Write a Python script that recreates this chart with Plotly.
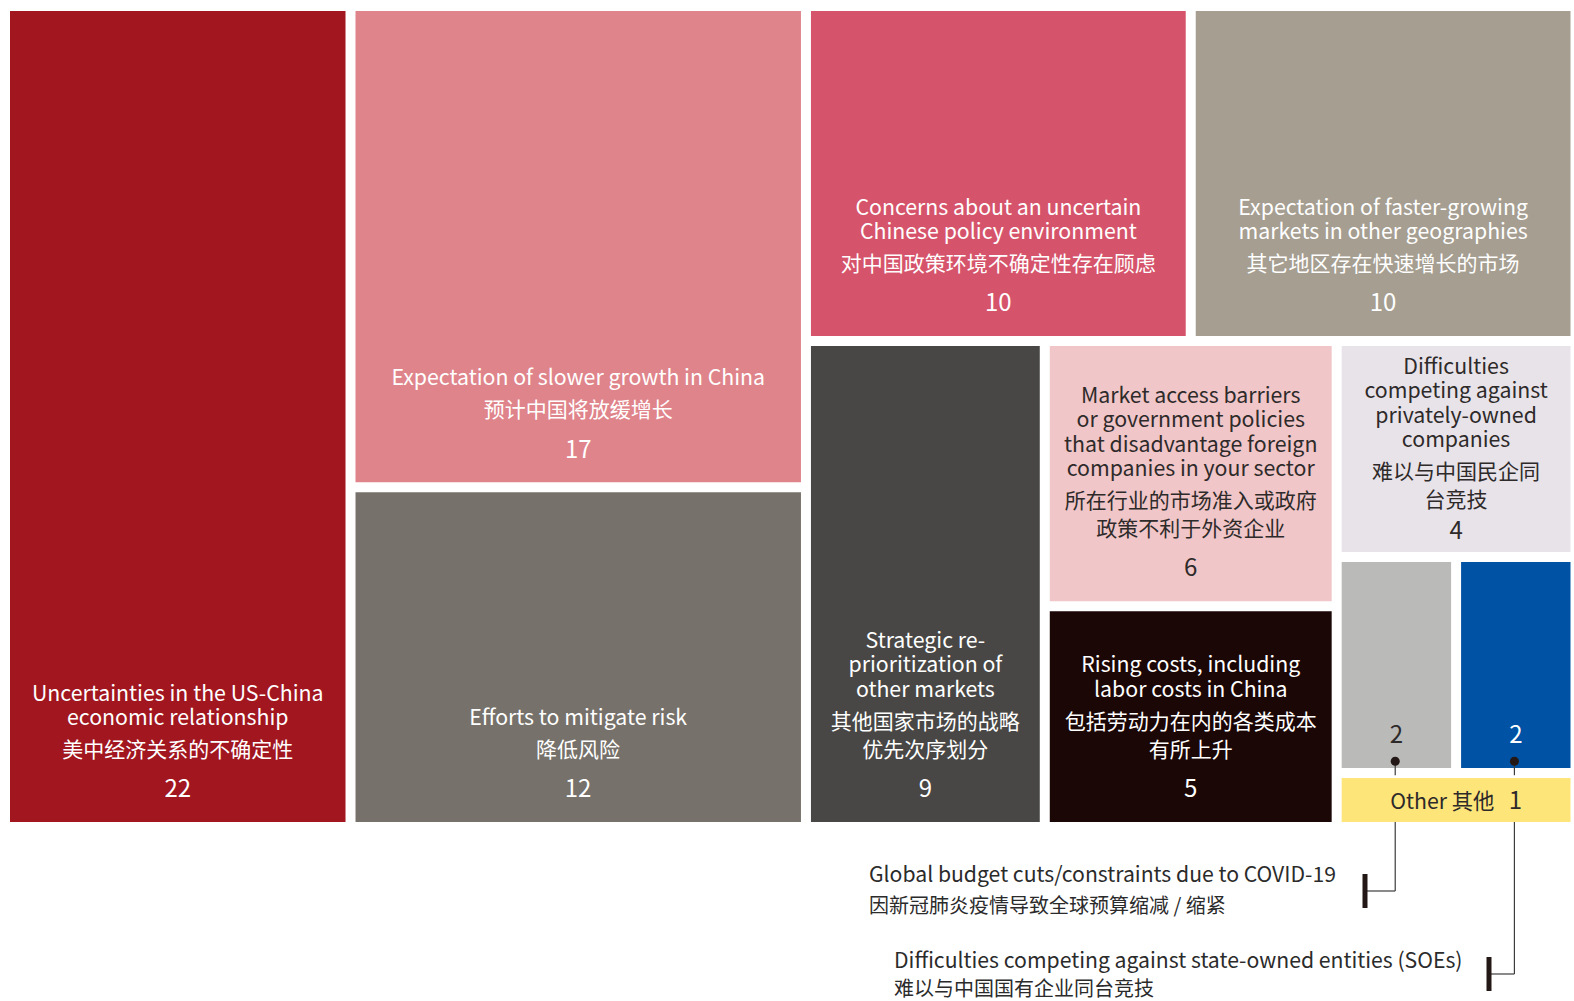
import plotly.graph_objects as go

W, H = 1574, 1001
FONT = "Noto Sans CJK SC"

# ---------------- data ----------------
leaf_ids = ["us_china", "slower", "mitigate", "policy", "faster", "reprior",
            "access", "costs", "private", "covid", "soe", "other"]
leaf_values = [22, 17, 12, 10, 10, 9, 6, 5, 4, 2, 2, 1]
en_lines = [
    ["Uncertainties in the US-China", "economic relationship"],
    ["Expectation of slower growth in China"],
    ["Efforts to mitigate risk"],
    ["Concerns about an uncertain", "Chinese policy environment"],
    ["Expectation of faster-growing", "markets in other geographies"],
    ["Strategic re-", "prioritization of", "other markets"],
    ["Market access barriers", "or government policies", "that disadvantage foreign", "companies in your sector"],
    ["Rising costs, including", "labor costs in China"],
    ["Difficulties", "competing against", "privately-owned", "companies"],
    [],
    [],
    [],
]
zh_lines = [
    ["美中经济关系的不确定性"],
    ["预计中国将放缓增长"],
    ["降低风险"],
    ["对中国政策环境不确定性存在顾虑"],
    ["其它地区存在快速增长的市场"],
    ["其他国家市场的战略", "优先次序划分"],
    ["所在行业的市场准入或政府", "政策不利于外资企业"],
    ["包括劳动力在内的各类成本", "有所上升"],
    ["难以与中国民企同", "台竞技"],
    [],
    [],
    [],
]
other_label = "Other 其他"
covid_label = ["Global budget cuts/constraints due to COVID-19", "因新冠肺炎疫情导致全球预算缩减 / 缩紧"]
soe_label = ["Difficulties competing against state-owned entities (SOEs)", "难以与中国国有企业同台竞技"]

leaf_colors = ["#A1161F", "#E0848B", "#76716A", "#D6546B", "#A59E91", "#484745",
               "#F0C6C8", "#1B0706", "#E8E3E9", "#BABAB8", "#0052A4", "#FDE57A"]
leaf_text_colors = ["#FFFFFF", "#FFFFFF", "#FFFFFF", "#FFFFFF", "#FFFFFF", "#FFFFFF",
                    "#2E2A2A", "#FFFFFF", "#2E2A2A", "#2E2A2A", "#FFFFFF", "#2E2A2A"]

# grouping of the tiles (order = drawing order)
group_parent = [
    ("root", ""),
    ("us_china", "root"), ("g_a", "root"), ("g_b", "root"),
    ("slower", "g_a"), ("mitigate", "g_a"),
    ("g_top", "g_b"), ("g_bottom", "g_b"),
    ("policy", "g_top"), ("faster", "g_top"),
    ("reprior", "g_bottom"), ("g_mid", "g_bottom"), ("g_right", "g_bottom"),
    ("access", "g_mid"), ("costs", "g_mid"),
    ("private", "g_right"), ("g_wrap", "g_right"),
    ("g_small", "g_wrap"),
    ("g_pair", "g_small"), ("other", "g_small"),
    ("covid", "g_pair"), ("soe", "g_pair"),
]

# ---------------- build treemap arrays ----------------
BASE = 3.1          # base font size -> line step = 1.3 * BASE px
EN_PX, ZH_PX, NUM_PX = 21.3, 21, 24

children = {}
for nid, par in group_parent:
    children.setdefault(nid, [])
    if par:
        children.setdefault(par, []).append(nid)

value = {lid: v for lid, v in zip(leaf_ids, leaf_values)}


def total(n):
    if n in value:
        return value[n]
    value[n] = sum(total(c) for c in children[n])
    return value[n]


total("root")


def make_text(i):
    lid = leaf_ids[i]
    num = leaf_values[i]
    if lid == "other":
        return (f"<span style='font-size:{EN_PX}px'>{other_label}&nbsp;&nbsp;&nbsp;</span>"
                f"<span style='font-size:{NUM_PX}px'>{num}</span>" + "<br>" * 3 + "&nbsp;")
    en = en_lines[i]
    zh = zh_lines[i]
    s = ""
    for k, line in enumerate(en):
        if k > 0:
            s += "<br>" * 6
        s += f"<span style='font-size:{EN_PX}px'>{line}</span>"
    for k, line in enumerate(zh):
        s += "<br>" * (8 if k == 0 else 7)
        s += f"<span style='font-size:{ZH_PX}px'>{line}</span>"
    if s:
        s += "<br>" * (8 if lid == "private" else 10)
    s += f"<span style='font-size:{NUM_PX}px'>{num}</span>"
    s += "<br>" * (3 if lid == "private" else 6) + "&nbsp;"
    return s


ids, parents, vals, colors, texts, tcolors = [], [], [], [], [], []
for nid, par in group_parent:
    ids.append(nid)
    parents.append(par)
    vals.append(value[nid])
    if nid in leaf_ids:
        i = leaf_ids.index(nid)
        colors.append(leaf_colors[i])
        texts.append(make_text(i))
        tcolors.append(leaf_text_colors[i])
    else:
        colors.append("#FFFFFF")
        texts.append("")
        tcolors.append("#FFFFFF")

GAP = 7
DX0, DX1 = 10 - GAP / 2, W
DY0, DY1 = 11 - GAP / 2, 822 + GAP / 2

fig = go.Figure(go.Treemap(
    ids=ids, parents=parents, values=vals, labels=[""] * len(ids),
    branchvalues="total", sort=False,
    text=texts, texttemplate="%{text}", textposition="bottom center",
    textfont=dict(family=FONT, size=BASE, color=tcolors),
    marker=dict(colors=colors, line=dict(color="#FFFFFF", width=GAP),
                pad=dict(t=0, l=0, r=0, b=0)),
    tiling=dict(packing="slice-dice"),
    pathbar=dict(visible=False),
    hoverinfo="skip",
    domain=dict(x=[DX0 / W, DX1 / W], y=[1 - DY1 / H, 1 - DY0 / H]),
))

# ---------------- compute tile rectangles (same slice-dice rule) for leaders ----------------
rects = {}


def tile(n, x0, y0, x1, y1, depth):
    rects[n] = (x0, y0, x1, y1)
    kids = children.get(n, [])
    if not kids:
        return
    tot = sum(value[k] for k in kids)
    pos = x0 if depth % 2 == 0 else y0
    for k in kids:
        f = value[k] / tot
        if depth % 2 == 0:
            w = (x1 - x0) * f
            tile(k, pos, y0, pos + w, y1, depth + 1)
            pos += w
        else:
            h = (y1 - y0) * f
            tile(k, x0, pos, x1, pos + h, depth + 1)
            pos += h


tile("root", DX0, DY0, DX1, DY1, 0)


def px(x):
    return x / W


def py(y):
    return 1 - y / H


shapes = []
annotations = []
LINE_C = "#3C3C3C"
BAR_C = "#231815"
leaders = [("covid", covid_label, 891, 1365, 867, 872, 904),
           ("soe", soe_label, 974, 1489, 892, 958, 987)]
yo = rects["other"]
for lid, lab, elbow_y, bar_x, text_x, y_en, y_zh in leaders:
    x0, y0, x1, y1 = rects[lid]
    cx = (x0 + x1) / 2
    dot_y = y1 - GAP / 2 - 7
    shapes.append(dict(type="line", xref="paper", yref="paper", x0=px(cx), x1=px(cx),
                       y0=py(dot_y), y1=py(yo[1] + GAP / 2), line=dict(color=LINE_C, width=1.2)))
    shapes.append(dict(type="line", xref="paper", yref="paper", x0=px(cx), x1=px(cx),
                       y0=py(yo[3] - GAP / 2), y1=py(elbow_y), line=dict(color=LINE_C, width=1.2)))
    shapes.append(dict(type="line", xref="paper", yref="paper", x0=px(cx), x1=px(bar_x),
                       y0=py(elbow_y), y1=py(elbow_y), line=dict(color=LINE_C, width=1.2)))
    shapes.append(dict(type="line", xref="paper", yref="paper", x0=px(bar_x), x1=px(bar_x),
                       y0=py(elbow_y - 17), y1=py(elbow_y + 17), line=dict(color=BAR_C, width=5)))
    shapes.append(dict(type="circle", xref="paper", yref="paper",
                       x0=px(cx - 4.5), x1=px(cx + 4.5), y0=py(dot_y - 4.5), y1=py(dot_y + 4.5),
                       fillcolor="#231815", line=dict(width=0)))
    annotations.append(dict(text=lab[0], xref="paper", yref="paper", x=px(text_x), y=py(y_en),
                            xanchor="left", yanchor="middle", showarrow=False,
                            font=dict(family=FONT, size=21.2, color="#2B2B2B")))
    annotations.append(dict(text=lab[1], xref="paper", yref="paper", x=px(text_x), y=py(y_zh),
                            xanchor="left", yanchor="middle", showarrow=False,
                            font=dict(family=FONT, size=20, color="#2B2B2B")))

fig.update_layout(
    width=W, height=H,
    margin=dict(l=0, r=0, t=0, b=0),
    paper_bgcolor="#FFFFFF",
    plot_bgcolor="#FFFFFF",
    font=dict(family=FONT),
    shapes=shapes,
    annotations=annotations,
    showlegend=False,
)

fig.write_html("out.html")
